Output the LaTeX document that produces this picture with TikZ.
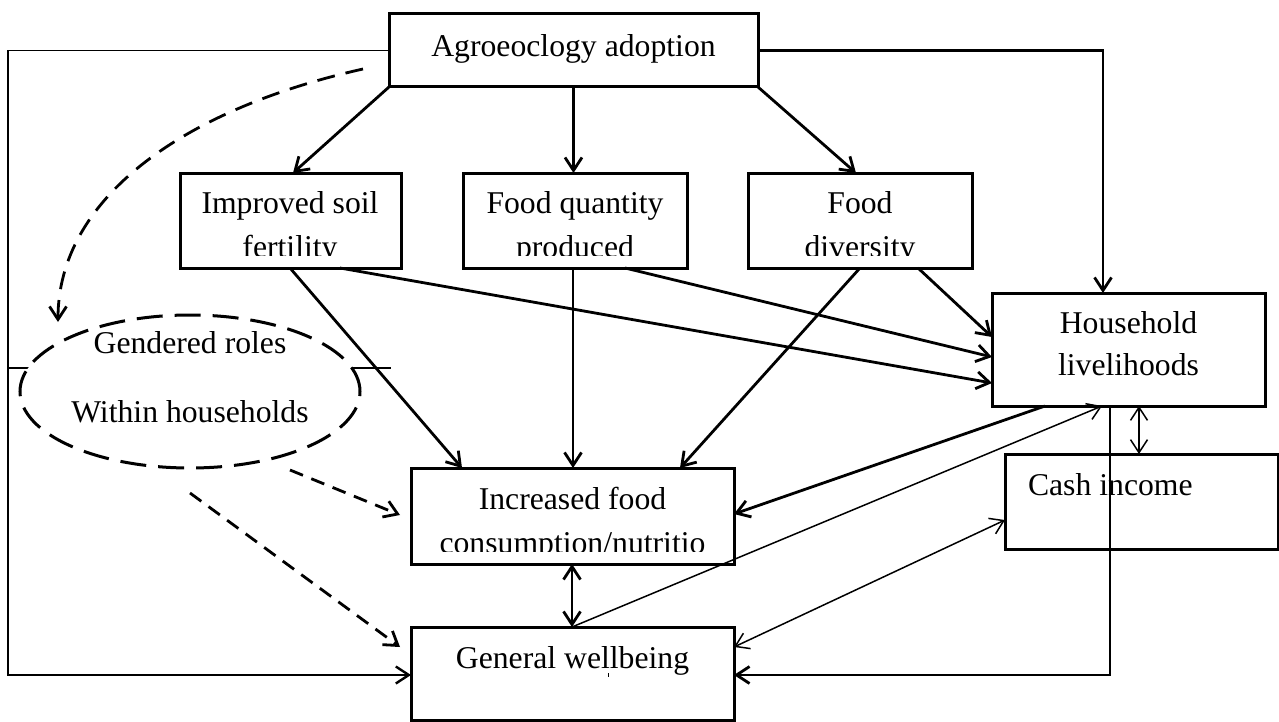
\documentclass[tikz,border=0pt]{standalone}
\usepackage{fontspec}
\setmainfont{Liberation Serif}
\usetikzlibrary{arrows.meta,shapes.geometric}
\begin{document}
\begin{tikzpicture}[x=0.5pt,y=-0.5pt,
  box/.style={draw,line width=1.5pt,inner sep=0pt,outer sep=0pt,rectangle},
  lbl/.style={anchor=base,inner sep=0pt,outer sep=0pt,font=\fontsize{15.85pt}{19pt}\selectfont},
  tip/.style={Straight Barb[length=6.5pt,width=8.5pt]},
  arr/.style={line width=1.4pt,-{Straight Barb[length=6.5pt,width=8.5pt]}},
  darr/.style={line width=1.4pt,{Straight Barb[length=6.5pt,width=8.5pt]}-{Straight Barb[length=6.5pt,width=8.5pt]}},
  thinarr/.style={line width=0.75pt,-{Straight Barb[length=6.5pt,width=8.5pt,line width=0.75pt]}},
  thindarr/.style={line width=0.75pt,{Straight Barb[length=6.5pt,width=8.5pt]}-{Straight Barb[length=6.5pt,width=8.5pt]}},
  dasharr/.style={line width=1.4pt,dash pattern=on 7pt off 4.5pt,-{Straight Barb[length=6.5pt,width=8.5pt]}},
]
\useasboundingbox (0,0) rectangle (1279,722);

% boxes
\node[box,minimum width=184.5pt,minimum height=36.5pt] (A) at (573.5,50.5) {};
\node[box,minimum width=110.5pt,minimum height=47.5pt] (S) at (290.5,220.5) {};
\node[box,minimum width=112pt,minimum height=47.5pt] (Q) at (575,220.5) {};
\node[box,minimum width=112pt,minimum height=47.5pt] (D) at (860,220.5) {};
\node[box,minimum width=136.5pt,minimum height=56.5pt] (H) at (1128.5,349.5) {};
\node[box,minimum width=136.5pt,minimum height=47.5pt] (C) at (1141.5,501.5) {};
\node[box,minimum width=161.5pt,minimum height=48pt] (F) at (572.5,516) {};
\node[box,minimum width=161.5pt,minimum height=46.5pt] (W) at (572.5,673.5) {};

% stub lines behind the ellipse
\draw[line width=1pt] (8,368) -- (391,368);
\node[draw,ellipse,fill=white,line width=1.5pt,dash pattern=on 13pt off 6pt,inner sep=0pt,minimum width=170pt,minimum height=76.5pt] (E) at (190,391.5) {};

% labels
\node[lbl] (a1) at (573.5,57) {Agroeoclogy adoption};
\node[lbl] (s1) at (290,213) {Improved soil};
\node[lbl] (q1) at (575,213) {Food quantity};
\node[lbl] (d1) at (860,213) {Food};
\begin{scope}
\clip (150,225) rectangle (990,255);
\node[lbl] (s2) at (290,257) {fertility};
\node[lbl] (q2) at (575,257) {produced};
\node[lbl] (d2) at (860,257) {diversity};
\end{scope}
\node[lbl] (h1) at (1128.5,333) {Household};
\node[lbl] (h2) at (1128.5,375) {livelihoods};
\node[lbl,anchor=base west] (c1) at (1028,495) {Cash income};
\node[lbl] (f1) at (572.5,509) {Increased food};
\begin{scope}
\clip (415,515) rectangle (730,551);
\node[lbl] (f2) at (572.5,553) {consumption/nutritio};
\end{scope}
\node[lbl] (w1) at (572.5,668) {General wellbeing};
\node[lbl] (e1) at (190,353) {Gendered roles};
\node[lbl] (e2) at (190,422) {Within households};
\draw[line width=0.5pt] (608,673) -- (608,677);

% coordinates for free ends
\coordinate (dcs) at (363,69);
\coordinate (dce) at (58,322);
\coordinate (es1) at (290,470);
\coordinate (es2) at (190,493);
\coordinate (ft1) at (400,515);
\coordinate (wt1) at (400,647);

% from agroecology
\draw[arr] (A.south west) -- (293,0 |- S.north);
\draw[arr] (A.south) -- (A.south |- Q.north);
\draw[arr] (A.south east) -- (856,0 |- D.north);
\draw[arr] (A.east) -| (1103,0 |- H.north);
\draw[line width=0.8pt] (A.west) -- (8,0 |- A.west);
\draw[line width=1.2pt,-{Straight Barb[length=6.5pt,width=8.5pt]}] (8,0 |- A.west) -- (8,675) -- (W.west |- 0,675);
\draw[line width=1.4pt,dash pattern=on 9pt off 5.5pt,-{Straight Barb[length=6.5pt,width=8.5pt]}] (dcs) .. controls (180,110) and (58,200) .. (dce);

% middle row to food consumption
\draw[arr] (290,0 |- S.south) -- (462,0 |- F.north);
\draw[arr] (573,0 |- Q.south) -- (573,0 |- F.north);
\draw[arr] (860,0 |- D.south) -- (680,0 |- F.north);

% middle row to household
\draw[arr] (340,0 |- S.south) -- (H.west |- 0,383);
\draw[arr] (625,0 |- Q.south) -- (H.west |- 0,357);
\draw[arr] (918,0 |- D.south) -- (H.west |- 0,337);

% household links
\draw[arr] (1045,0 |- H.south) -- (F.east |- 0,514);
\draw[thinarr] (572,0 |- W.north) -- (1102,0 |- H.south);
\draw[darr] (572,0 |- F.south) -- (572,0 |- W.north);
\draw[thindarr] (1139,0 |- H.south) -- (1139,0 |- C.north);
\draw[thindarr] (W.east |- 0,647) -- (C.west |- 0,520);
\draw[arr] (1110,0 |- H.south) |- (W.east |- 0,675);

% gendered roles
\draw[dasharr] (es1) -- (ft1);
\draw[dasharr] (es2) -- (wt1);
\end{tikzpicture}
\end{document}
